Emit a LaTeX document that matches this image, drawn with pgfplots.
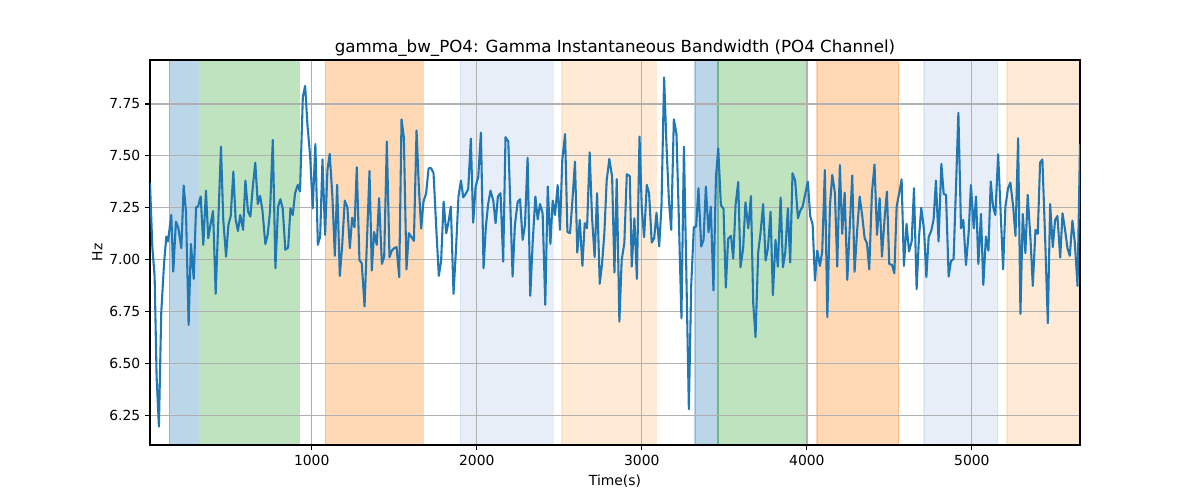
\documentclass[border=0pt]{standalone}
\usepackage{pgfplots}
\pgfplotsset{compat=1.18}
\usepackage{pgfplotstable}
\usepackage{fontspec}
\setmainfont{DejaVu Sans}
\definecolor{c0}{HTML}{1F77B4}
\definecolor{c1}{HTML}{FF7F0E}
\definecolor{c2}{HTML}{2CA02C}
\definecolor{c0l}{HTML}{AEC7E8}
\definecolor{c1l}{HTML}{FFBB78}
\definecolor{gridc}{HTML}{B0B0B0}
\pgfplotstableread{
x y
20 7.368
34 7.063
48 6.918
60 6.436
74 6.195
88 6.741
105 6.979
119 7.111
129 7.087
149 7.215
161 6.942
177 7.183
192 7.151
210 7.055
224 7.357
238 7.231
254 6.685
268 7.075
285 6.907
299 7.252
311 7.255
327 7.304
343 7.071
359 7.332
373 7.103
388 7.175
402 7.234
418 6.835
450 7.544
464 7.191
481 7.014
495 7.167
509 7.210
525 7.424
539 7.191
553 7.138
567 7.215
584 7.143
598 7.381
614 7.231
628 7.207
644 7.360
658 7.467
673 7.268
687 7.307
701 7.239
719 7.074
733 7.120
747 7.230
764 7.577
780 6.958
796 7.255
810 7.291
824 7.247
840 7.047
857 7.058
871 7.247
885 7.215
899 7.320
915 7.360
929 7.328
946 7.785
960 7.837
974 7.649
990 7.502
1006 7.247
1022 7.557
1037 7.071
1051 7.111
1065 7.483
1081 7.119
1095 7.432
1109 7.509
1125 7.304
1140 7.018
1154 7.360
1170 6.921
1184 7.063
1200 7.284
1216 7.252
1231 7.055
1245 7.202
1259 7.156
1273 7.445
1289 6.998
1303 6.982
1320 6.774
1350 7.427
1364 6.947
1378 7.133
1394 7.071
1408 7.296
1425 6.979
1439 7.014
1455 7.569
1471 7.011
1485 7.043
1499 7.055
1514 7.060
1530 6.915
1544 7.676
1558 7.590
1574 6.953
1588 7.127
1602 7.111
1619 7.090
1635 7.622
1649 7.349
1663 7.149
1677 7.279
1693 7.320
1708 7.440
1724 7.440
1738 7.416
1754 7.159
1770 6.921
1784 6.995
1799 7.279
1815 7.127
1829 7.183
1843 7.255
1859 6.835
1875 7.063
1889 7.304
1904 7.381
1918 7.300
1932 7.316
1948 7.339
1964 7.583
1978 7.178
1993 7.352
2009 7.400
2025 7.612
2041 6.958
2055 7.159
2069 7.268
2083 7.332
2100 7.284
2114 7.175
2128 7.304
2144 7.320
2160 6.990
2174 7.590
2191 7.569
2217 6.918
2231 7.167
2248 7.279
2262 7.291
2278 7.095
2292 7.167
2308 7.491
2324 6.825
2339 7.087
2355 7.304
2369 7.194
2383 7.268
2399 7.223
2415 6.782
2430 7.352
2446 7.075
2460 7.284
2474 7.215
2490 7.359
2504 7.143
2518 7.480
2535 7.605
2549 7.133
2565 7.127
2579 7.279
2595 7.472
2609 7.034
2624 7.191
2640 6.969
2654 7.175
2668 7.151
2684 7.517
2698 7.207
2714 7.011
2729 7.320
2745 6.883
2759 6.979
2773 7.127
2787 7.381
2803 7.485
2820 7.400
2834 6.937
2848 7.387
2864 6.701
2878 6.998
2894 7.079
2909 7.411
2927 7.403
2939 6.966
2955 7.199
2970 6.907
2986 7.593
3000 7.242
3014 7.108
3030 7.360
3044 7.320
3060 7.082
3075 7.103
3089 7.226
3105 7.063
3119 7.255
3135 7.878
3149 7.560
3164 7.287
3178 7.143
3194 7.676
3210 7.605
3224 7.207
3240 6.717
3255 7.544
3269 6.966
3285 6.279
3299 6.870
3315 7.156
3329 7.159
3343 7.344
3360 7.063
3374 7.095
3388 7.352
3404 7.132
3418 7.255
3434 6.851
3449 7.397
3463 7.536
3479 7.263
3495 7.244
3509 6.865
3523 7.100
3540 7.114
3554 7.005
3568 7.263
3584 7.374
3598 6.963
3614 7.055
3628 7.276
3645 7.151
3661 7.306
3675 6.790
3689 6.626
3705 7.034
3719 7.127
3735 7.268
3750 6.995
3764 7.055
3780 7.231
3794 6.828
3810 7.095
3824 6.966
3841 7.299
3855 6.963
3869 7.034
3885 7.247
3899 6.986
3913 7.416
3929 7.381
3946 7.199
3960 7.236
3974 7.255
3990 7.316
4006 7.376
4020 7.210
4035 7.169
4049 6.899
4063 7.043
4079 6.969
4093 7.039
4109 7.432
4124 6.722
4140 7.263
4154 7.408
4170 7.320
4184 6.966
4200 7.456
4214 7.124
4229 7.323
4245 6.902
4261 7.175
4275 7.405
4289 6.941
4305 7.143
4320 7.304
4336 7.207
4350 7.103
4364 7.079
4378 6.953
4394 7.320
4410 7.458
4425 7.119
4441 7.296
4455 7.014
4471 7.199
4485 7.328
4499 6.979
4516 6.974
4530 6.934
4544 7.255
4560 7.323
4574 7.387
4588 6.969
4604 7.172
4619 7.039
4635 7.087
4649 7.344
4665 6.857
4679 7.103
4693 7.250
4710 7.143
4724 6.915
4738 7.108
4754 7.140
4768 7.194
4782 7.381
4798 7.087
4815 7.461
4829 7.316
4843 7.312
4859 6.918
4873 6.992
4889 7.003
4904 7.360
4918 7.708
4934 7.151
4948 7.191
4964 6.974
4980 7.127
4994 7.359
5011 7.151
5025 7.304
5039 6.979
5055 7.220
5069 6.878
5085 7.111
5100 7.043
5114 7.376
5128 7.255
5142 7.215
5159 7.507
5189 6.953
5203 7.257
5219 7.344
5233 7.371
5250 7.255
5264 7.114
5280 7.585
5294 6.738
5308 7.220
5324 7.031
5338 7.312
5355 7.098
5369 6.873
5385 7.143
5399 7.124
5413 7.467
5427 7.483
5444 7.095
5460 6.693
5474 7.268
5490 7.060
5504 7.191
5518 7.210
5535 7.010
5549 7.223
5563 7.151
5579 7.055
5593 7.018
5609 7.188
5623 7.087
5640 6.873
5655 7.557
}\datatable
\begin{document}
\begin{tikzpicture}
\begin{axis}[
  set layers,
  at={(0,0)}, anchor=south west,
  width=669.6pt, height=277.2pt, scale only axis,
  xmin=20, xmax=5655, ymin=6.106, ymax=7.962,
  xtick={1000,2000,3000,4000,5000},
  ytick={6.25,6.5,6.75,7,7.25,7.5,7.75},
  tick pos=left,
  /pgf/number format/assume math mode=true,
  xticklabel style={/pgf/number format/1000 sep={}},
  yticklabel style={/pgf/number format/fixed,/pgf/number format/fixed zerofill,/pgf/number format/precision=2},
  tick align=outside, major tick length=3.5pt,
  every tick/.style={black, line width=0.8pt},
  axis line style={black, line width=0.8pt},
  xmajorgrids, ymajorgrids,
  grid style={gridc, line width=0.8pt},
  ticklabel style={font=\fontsize{10}{12}\selectfont},
  title={gamma\_bw\_PO4: Gamma Instantaneous Bandwidth (PO4 Channel)},
  title style={font=\fontsize{12}{14.4}\selectfont, at={(0.5,1)}, anchor=base, yshift=-0.5pt},
  xlabel={Time(s)}, ylabel={Hz},
  label style={font=\fontsize{10}{12}\selectfont},
  xlabel style={at={(0.5,0)}, anchor=base, yshift=-29pt},
  ylabel style={at={(-0.0567,0.5)}, anchor=center},
]
\addplot[on layer=axis background, fill=c0, fill opacity=0.3, draw=c0, draw opacity=0.3, line width=1pt] coordinates {(137,6.106) (137,7.962) (313,7.962) (313,6.106)} -- cycle;
\addplot[on layer=axis background, fill=c2, fill opacity=0.3, draw=c2, draw opacity=0.3, line width=1pt] coordinates {(320,6.106) (320,7.962) (924,7.962) (924,6.106)} -- cycle;
\addplot[on layer=axis background, fill=c1, fill opacity=0.3, draw=c1, draw opacity=0.3, line width=1pt] coordinates {(1083,6.106) (1083,7.962) (1676,7.962) (1676,6.106)} -- cycle;
\addplot[on layer=axis background, fill=c0l, fill opacity=0.3, draw=c0l, draw opacity=0.3, line width=1pt] coordinates {(1901,6.106) (1901,7.962) (2464,7.962) (2464,6.106)} -- cycle;
\addplot[on layer=axis background, fill=c1l, fill opacity=0.3, draw=c1l, draw opacity=0.3, line width=1pt] coordinates {(2516,6.106) (2516,7.962) (3088,7.962) (3088,6.106)} -- cycle;
\addplot[on layer=axis background, fill=c0, fill opacity=0.3, draw=c0, draw opacity=0.3, line width=1pt] coordinates {(3321,6.106) (3321,7.962) (3462,7.962) (3462,6.106)} -- cycle;
\addplot[on layer=axis background, fill=c2, fill opacity=0.3, draw=c2, draw opacity=0.3, line width=1pt] coordinates {(3462,6.106) (3462,7.962) (4004,7.962) (4004,6.106)} -- cycle;
\addplot[on layer=axis background, fill=c1, fill opacity=0.3, draw=c1, draw opacity=0.3, line width=1pt] coordinates {(4061,6.106) (4061,7.962) (4556,7.962) (4556,6.106)} -- cycle;
\addplot[on layer=axis background, fill=c0l, fill opacity=0.3, draw=c0l, draw opacity=0.3, line width=1pt] coordinates {(4710,6.106) (4710,7.962) (5156,7.962) (5156,6.106)} -- cycle;
\addplot[on layer=axis background, fill=c1l, fill opacity=0.3, draw=none] coordinates {(5213,6.106) (5213,7.962) (5655,7.962) (5655,6.106)} -- cycle;
\addplot[on layer=axis background, draw=c1l, draw opacity=0.3, line width=1pt] coordinates {(5213,6.106) (5213,7.962)};
\addplot[c0, line width=1.5pt, line join=round, no markers] table[x=x,y=y] {\datatable};
\end{axis}
\pgfresetboundingbox
\useasboundingbox (-108pt,-39.6pt) rectangle (756pt,320.4pt);
\end{tikzpicture}
\end{document}
